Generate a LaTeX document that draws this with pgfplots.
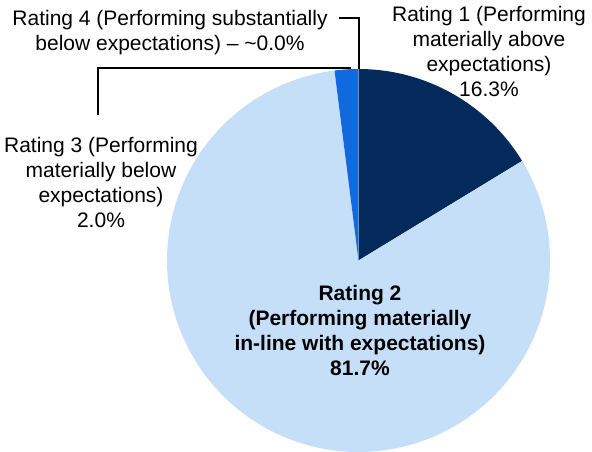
\documentclass[border=0pt]{standalone}
\usepackage{fontspec}
\setmainfont{Liberation Sans}
\usepackage{pgfplots}
\pgfplotsset{compat=1.18}

\definecolor{navyslice}{HTML}{032A5B}
\definecolor{lightslice}{HTML}{C6DFF9}
\definecolor{brightslice}{HTML}{1169DE}
\definecolor{thinslice}{HTML}{6B93C8}

% shares in percent
\def\shareA{16.3}
\def\shareB{81.7}
\def\shareC{2.0}
\def\shareD{0.0}

% pie centre and radius (picture units)
\def\pcx{358.5}
\def\pcy{191.5}
\def\prad{191.5}

\pgfmathsetmacro\angA{90-3.6*\shareA}
\pgfmathsetmacro\angB{\angA-3.6*\shareB}
\pgfmathsetmacro\angC{\angB-3.6*\shareC}

\tikzset{lbl/.style={font=\fontsize{21}{25}\selectfont,align=center,inner sep=0pt}}

\begin{document}
\begin{tikzpicture}
\begin{axis}[
width=592pt,height=452pt,scale only axis,hide axis,clip=false,
xmin=0,xmax=592,ymin=0,ymax=452
]
% keep the full canvas in the bounding box
\path (axis cs:0,0) rectangle (axis cs:592,452);

\addplot[fill=navyslice,draw=none,domain=\angA:90,samples=80,variable=\t]
  ({\pcx+\prad*cos(\t)},{\pcy+\prad*sin(\t)}) -- (axis cs:\pcx,\pcy) -- cycle;
\addplot[fill=lightslice,draw=none,domain=\angB:\angA,samples=240,variable=\t]
  ({\pcx+\prad*cos(\t)},{\pcy+\prad*sin(\t)}) -- (axis cs:\pcx,\pcy) -- cycle;
\addplot[fill=brightslice,draw=none,domain=\angC:\angB,samples=20,variable=\t]
  ({\pcx+\prad*cos(\t)},{\pcy+\prad*sin(\t)}) -- (axis cs:\pcx,\pcy) -- cycle;
% Rating 4, ~0.0%: a hairline at 12 o'clock
\draw[thinslice,line width=0.8pt] (axis cs:\pcx,\pcy) -- (axis cs:\pcx,{\pcy+\prad});

% leader lines
\draw[line width=1.5pt] (axis cs:339,434) -- (axis cs:359,434) -- (axis cs:359,383);
\draw[line width=1.5pt] (axis cs:98,337) -- (axis cs:98,384) -- (axis cs:351,384);

\node[lbl] at (axis cs:489,400.5) {Rating 1 (Performing\\materially above\\expectations)\\16.3\%};
\node[lbl] at (axis cs:170,419.5) {Rating 4 (Performing substantially\\below expectations) – \textasciitilde0.0\%};
\node[lbl] at (axis cs:101,269.5) {Rating 3 (Performing\\materially below\\expectations)\\2.0\%};
\node[lbl,font=\fontsize{21}{25}\selectfont\bfseries] at (axis cs:360,122) {Rating 2\\(Performing materially\\in-line with expectations)\\81.7\%};
\end{axis}
\end{tikzpicture}
\end{document}
